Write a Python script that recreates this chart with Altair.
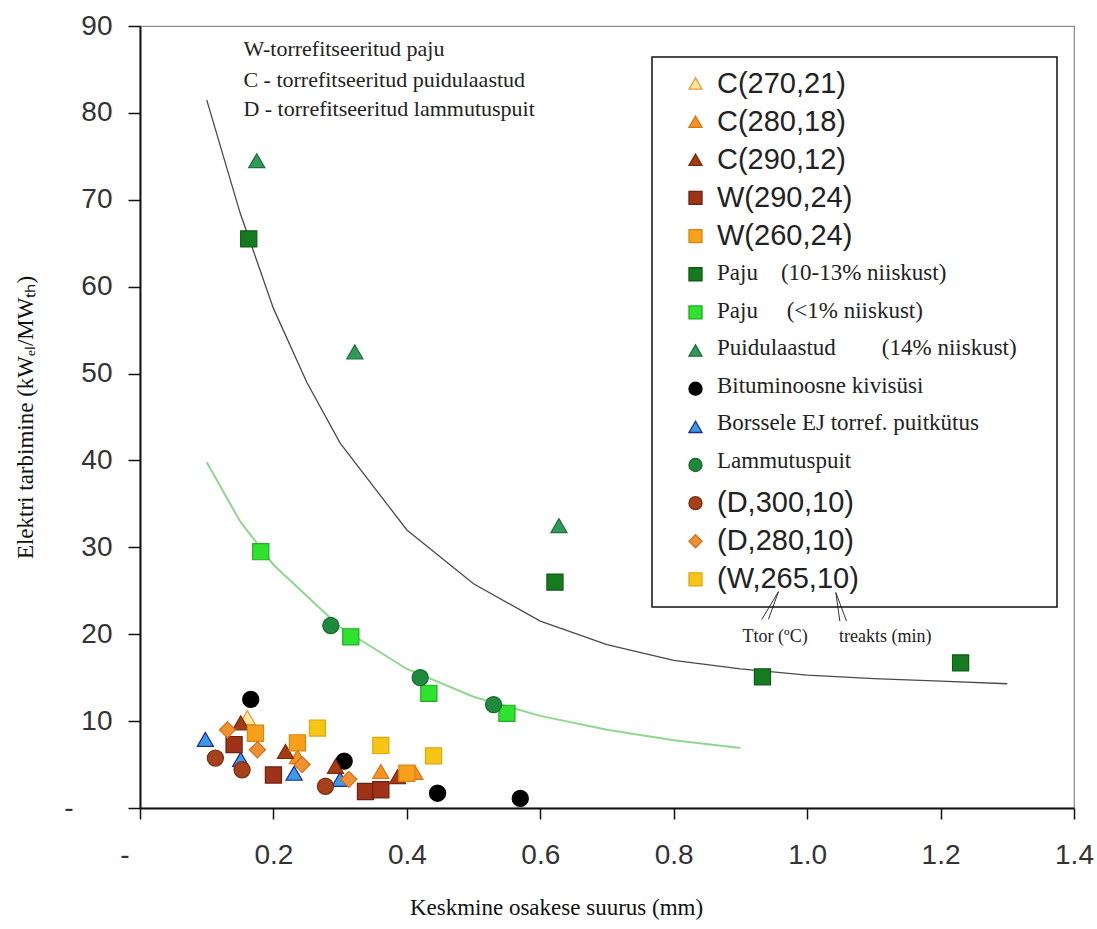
import altair as alt
import pandas as pd

NB = "\u00a0"
ZW = "\u200b"

# ---------------- data ----------------
series_labels = [
    "C(270,21)", "C(280,18)", "C(290,12)", "W(290,24)", "W(260,24)",
    "Paju" + NB * 4 + "(10-13% niiskust)",
    "Paju" + NB * 5 + "(<1% niiskust)",
    "Puidulaastud" + NB * 8 + "(14% niiskust)",
    "Bituminoosne kivisüsi",
    "Borssele EJ torref. puitkütus",
    "Lammutuspuit",
    "(D,300,10)", "(D,280,10)", "(W,265,10)",
]
serif_rows = [5, 6, 7, 8, 9, 10]

c270_x = [0.161];                       c270_y = [10.4]
c280_x = [0.236, 0.361, 0.412];         c280_y = [5.9, 4.2, 4.1]
c290_x = [0.151, 0.218, 0.293, 0.386];  c290_y = [9.8, 6.5, 4.8, 3.6]
w290_x = [0.141, 0.200, 0.338, 0.361];  w290_y = [7.3, 3.8, 1.9, 2.1]
w260_x = [0.173, 0.236, 0.400];         w260_y = [8.6, 7.5, 4.0]
paju_wet_x = [0.163, 0.622, 0.933, 1.230]; paju_wet_y = [65.5, 26.0, 15.1, 16.7]
paju_dry_x = [0.181, 0.316, 0.433, 0.550]; paju_dry_y = [29.5, 19.7, 13.2, 10.9]
chips_x = [0.175, 0.322, 0.628];        chips_y = [74.5, 52.5, 32.5]
coal_x = [0.166, 0.306, 0.446, 0.570];  coal_y = [12.5, 5.4, 1.7, 1.1]
borssele_x = [0.098, 0.151, 0.231, 0.300]; borssele_y = [7.9, 5.6, 4.0, 3.3]
demo_x = [0.286, 0.420, 0.530];         demo_y = [21.0, 15.0, 11.9]
d300_x = [0.113, 0.153, 0.278];         d300_y = [5.75, 4.4, 2.5]
d280_x = [0.131, 0.176, 0.243, 0.313];  d280_y = [9.0, 6.7, 5.0, 3.3]
w265_x = [0.266, 0.361, 0.440];         w265_y = [9.2, 7.2, 6.0]

series_x = [c270_x, c280_x, c290_x, w290_x, w260_x, paju_wet_x, paju_dry_x,
            chips_x, coal_x, borssele_x, demo_x, d300_x, d280_x, w265_x]
series_y = [c270_y, c280_y, c290_y, w290_y, w260_y, paju_wet_y, paju_dry_y,
            chips_y, coal_y, borssele_y, demo_y, d300_y, d280_y, w265_y]

# trend curves
trend_dark_x = [0.10, 0.15, 0.20, 0.25, 0.30, 0.40, 0.50, 0.60, 0.70, 0.80, 0.90, 1.00, 1.10, 1.20, 1.30]
trend_dark_y = [81.5, 68.5, 57.5, 49.0, 42.0, 32.0, 25.8, 21.5, 18.8, 17.0, 16.0, 15.3, 14.9, 14.6, 14.3]
trend_light_x = [0.10, 0.15, 0.20, 0.30, 0.40, 0.50, 0.60, 0.70, 0.80, 0.90]
trend_light_y = [39.8, 33.0, 28.0, 20.8, 16.0, 12.8, 10.6, 9.0, 7.8, 6.9]

# annotation texts
note_lines = ["W-torrefitseeritud paju",
              "C - torrefitseeritud puidulaastud",
              "D - torrefitseeritud lammutuspuit"]
note_x = [0.155, 0.155, 0.155]
note_y = [87.3, 83.8, 80.4]

param_labels = ["Ttor (ºC)", "treakts (min)"]
param_x = [0.952, 1.117]
param_y = [19.7, 19.7]

arrow_x = [0.932, 0.942, 1.049, 1.059]
arrow_y = [21.7, 21.7, 21.5, 21.5]
arrow_x2 = [0.957, 0.957, 1.043, 1.043]
arrow_y2 = [24.9, 24.9, 24.8, 24.8]

x_ticks = [0, 0.2, 0.4, 0.6, 0.8, 1.0, 1.2, 1.4]
y_ticks = [0, 10, 20, 30, 40, 50, 60, 70, 80, 90]

# ---------------- styles ----------------
fill_colors = ["#FFE7A1", "#F7931E", "#A33B13", "#9E3318", "#F7A11A", "#167A1F",
               "#2FE22F", "#2E9B57", "#000000", "#3C9AE8", "#1F8A3D", "#A6411B",
               "#EF9131", "#F6C516"]
stroke_colors = ["#E79B3A", "#D67616", "#7A2A0C", "#6E220E", "#D88512", "#0F5A15",
                 "#1FAE1F", "#1E6E3D", "#000000", "#1B2C8C", "#156B2D", "#7A2D10",
                 "#D2711A", "#DDA90F"]
shapes = ["triangle-up", "triangle-up", "triangle-up", "square", "square", "square",
          "square", "triangle-up", "circle", "triangle-up", "circle", "circle",
          "diamond", "square"]

# ---------------- tables ----------------
rows = []
for i, (lab, xs, ys) in enumerate(zip(series_labels, series_x, series_y)):
    for xv, yv in zip(xs, ys):
        rows.append({"series": lab, "x": xv, "y": yv, "serif": i in serif_rows})
df_points = pd.DataFrame(rows)
df_sans_pts = df_points[~df_points["serif"]].drop(columns="serif")
df_serif_pts = df_points[df_points["serif"]].drop(columns="serif")
df_dark = pd.DataFrame({"x": trend_dark_x, "y": trend_dark_y})
df_light = pd.DataFrame({"x": trend_light_x, "y": trend_light_y})
df_notes = pd.DataFrame({"x": note_x, "y": note_y, "t": note_lines})
df_params = pd.DataFrame({"x": param_x, "y": param_y, "t": param_labels})
df_arrows = pd.DataFrame({"x": arrow_x, "y": arrow_y, "x2": arrow_x2, "y2": arrow_y2})

serif_labels = [series_labels[i] for i in serif_rows]
serif_fills = [fill_colors[i] for i in serif_rows]
serif_strokes = [stroke_colors[i] for i in serif_rows]
serif_shapes = [shapes[i] for i in serif_rows]

x_enc = alt.X(
    "x:Q",
    scale=alt.Scale(domain=[0, 1.4], nice=False, zero=False),
    axis=alt.Axis(
        values=x_ticks,
        labelExpr="datum.value == 0 ? '-" + NB * 4 + ZW + "' : format(datum.value, '.1f')",
        grid=False, tickSize=11, tickWidth=1.5, tickColor="#111",
        domainColor="#111", domainWidth=2,
        labelFont="Liberation Sans", labelFontSize=28, labelColor="#333",
        labelPadding=22, labelFlush=False,
        title="Keskmine osakese suurus (mm)",
        titleFont="Liberation Serif", titleFontSize=23, titleFontWeight="normal",
        titleColor="#111", titleX=416, titleY=99, titleBaseline="middle",
    ),
)
y_enc = alt.Y(
    "y:Q",
    scale=alt.Scale(domain=[0, 90], nice=False, zero=False),
    axis=alt.Axis(
        values=y_ticks,
        labelExpr="datum.value == 0 ? '-" + NB * 5 + ZW + "' : datum.value",
        grid=False, tickSize=12, tickWidth=1.5, tickColor="#111",
        domainColor="#111", domainWidth=2,
        labelFont="Liberation Sans", labelFontSize=28, labelColor="#333",
        labelPadding=16, labelFlush=False,
        title="Elektri tarbimine (kWₑₗ/MWₜₕ)",
        titleFont="Liberation Serif", titleFontSize=23, titleFontWeight="normal",
        titleColor="#111", titleX=-115, titleY=391, titleBaseline="middle",
    ),
)

# main legend: all 14 symbols, framed; sans labels only (serif rows are left
# blank here and get their text from the second legend placed on top)
LEG_X, LEG_Y, LEG_PAD = 512, 31, 12
SANS_SIZE, SERIF_SIZE = 29, 23
sans_test = "indexof(datum.label, '(') >= 0 && indexof(datum.label, '(') <= 1"
last_test = "indexof(datum.label, '(W') == 0"
legend_main = alt.Legend(
    title=None, orient="none", legendX=LEG_X, legendY=LEG_Y,
    strokeColor="#111", padding=LEG_PAD,
    symbolOffset=17, labelOffset=7, rowPadding=8.15, gridAlign="all",
    symbolSize=170, symbolStrokeWidth=1.3,
    labelLimit=600, labelColor="#222",
    labelFont="Liberation Sans", labelFontSize=SANS_SIZE,
    labelExpr=(last_test + " ? datum.label + '" + NB * 23 + ZW + "' : ("
               + sans_test + " ? datum.label : '')"),
)
legend_serif = alt.Legend(
    title=None, orient="none",
    legendX=LEG_X + LEG_PAD, legendY=LEG_Y + 204.5,
    padding=0,
    symbolOffset=17, labelOffset=13, rowPadding=13.6, gridAlign="all",
    symbolSize=170, symbolOpacity=0, symbolStrokeWidth=0,
    labelLimit=600, labelColor="#222",
    labelFont="Liberation Serif", labelFontSize=SERIF_SIZE,
)

points_sans = alt.Chart(df_sans_pts).mark_point(
    filled=True, size=260, opacity=1, strokeWidth=1.2
).encode(
    x=x_enc, y=y_enc,
    color=alt.Color("series:N", scale=alt.Scale(domain=series_labels, range=fill_colors), legend=legend_main),
    shape=alt.Shape("series:N", scale=alt.Scale(domain=series_labels, range=shapes), legend=legend_main),
    stroke=alt.Stroke("series:N", scale=alt.Scale(domain=series_labels, range=stroke_colors), legend=legend_main),
)
points_serif = alt.Chart(df_serif_pts).mark_point(
    filled=True, size=260, opacity=1, strokeWidth=1.2
).encode(
    x=x_enc, y=y_enc,
    color=alt.Color("series:N", scale=alt.Scale(domain=serif_labels, range=serif_fills), legend=legend_serif),
    shape=alt.Shape("series:N", scale=alt.Scale(domain=serif_labels, range=serif_shapes), legend=legend_serif),
    stroke=alt.Stroke("series:N", scale=alt.Scale(domain=serif_labels, range=serif_strokes), legend=legend_serif),
)

dark_line = alt.Chart(df_dark).mark_line(color="#4a4a4a", strokeWidth=1.3).encode(x=x_enc, y=y_enc)
light_line = alt.Chart(df_light).mark_line(color="#8ED88E", strokeWidth=2).encode(x=x_enc, y=y_enc)

notes = alt.Chart(df_notes).mark_text(
    align="left", baseline="middle", font="Liberation Serif", fontSize=22, color="#222"
).encode(x=x_enc, y=y_enc, text="t:N")

params = alt.Chart(df_params).mark_text(
    align="center", baseline="middle", font="Liberation Serif", fontSize=18, color="#222"
).encode(x=x_enc, y=y_enc, text="t:N")

arrows = alt.Chart(df_arrows).mark_rule(color="#333", strokeWidth=1).encode(
    x=x_enc, y=y_enc, x2="x2:Q", y2="y2:Q"
)

chart = alt.layer(
    light_line, dark_line, arrows, notes, params, points_serif, points_sans
).resolve_scale(
    color="independent", shape="independent", stroke="independent"
).properties(
    width=934, height=782,
    autosize=alt.AutoSizeParams(type="none"),
    padding={"left": 140, "top": 26, "right": 23, "bottom": 121},
    background="white",
).configure_view(
    stroke="#8a8a8a", strokeWidth=1.2
).configure_legend(
    strokeWidth=1.5
)

chart.save("out.html", embed_options={"renderer": "svg", "actions": False})
